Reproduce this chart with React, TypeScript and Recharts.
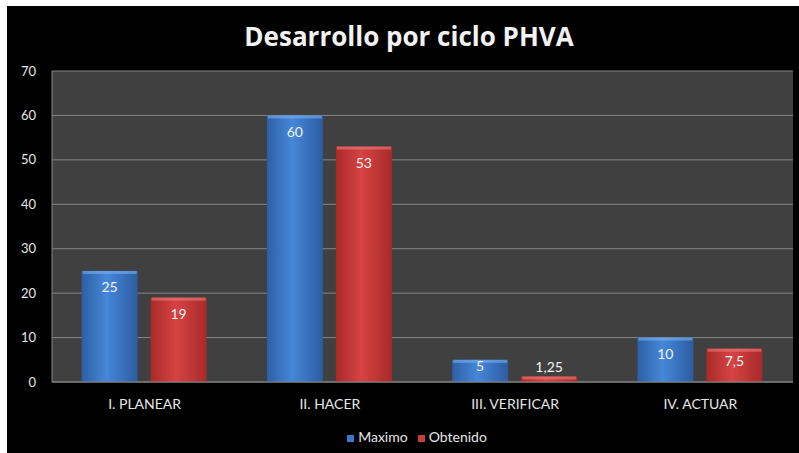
import { BarChart, Bar, XAxis, YAxis, CartesianGrid, Legend } from "recharts";

const CATEGORIES = ["I. PLANEAR", "II. HACER", "III. VERIFICAR", "IV. ACTUAR"];
const MAXIMO = [25, 60, 5, 10];
const OBTENIDO = [19, 53, 1.25, 7.5];
const Y_TICKS = [0, 10, 20, 30, 40, 50, 60, 70];

const data = CATEGORIES.map((name, i) => ({ name, maximo: MAXIMO[i], obtenido: OBTENIDO[i] }));

const FONT = "Lato, 'Open Sans', sans-serif";

const fmt = (v: number) => String(v).replace(".", ",");

const BevelBar = (props: any) => {
  const { x, y, width, height, gradId, topColor } = props;
  if (!height || height <= 0) return null;
  return (
    <g>
      <rect x={x} y={y} width={width} height={height} fill={`url(#${gradId})`} />
      <rect x={x + 1} y={y} width={width - 2} height={Math.min(3, height)} fill={topColor} opacity={0.6} />
    </g>
  );
};

const BarLabel = (props: any) => {
  const { x, y, width, height, value } = props;
  const h = height as number;
  let cy: number;
  if (h < 12) cy = y - 10;
  else cy = y + Math.min(16, h / 2 - 5);
  return (
    <text
      x={x + width / 2}
      y={cy}
      textAnchor="middle"
      dominantBaseline="central"
      fill="#f2f2f2"
      fontSize={14}
      fontFamily={FONT}
    >
      {fmt(value)}
    </text>
  );
};

export default function App() {
  return (
    <div style={{ position: "absolute", left: 0, top: 0, width: 799, height: 453, background: "#fff" }}>
      <div style={{ position: "absolute", left: 7, top: 6, width: 792, height: 447, background: "#000" }}>
        <div
          style={{
            position: "absolute",
            left: 0,
            width: 804,
            top: 12,
            textAlign: "center",
            color: "#f2f2f2",
            fontFamily: "'Open Sans', Lato, sans-serif",
            fontWeight: 700,
            fontSize: 26,
          }}
        >
          Desarrollo por ciclo PHVA
        </div>
        <BarChart
          width={792}
          height={447}
          data={data}
          margin={{ top: 65, right: 6, bottom: 19, left: 0 }}
          barCategoryGap="16%"
          barGap={13}
        >
          <defs>
            <linearGradient id="gBlue" x1="0" y1="0" x2="1" y2="0">
              <stop offset="0%" stopColor="#2d5fa6" />
              <stop offset="45%" stopColor="#4687d8" />
              <stop offset="100%" stopColor="#2c5ca2" />
            </linearGradient>
            <linearGradient id="gRed" x1="0" y1="0" x2="1" y2="0">
              <stop offset="0%" stopColor="#a92a2a" />
              <stop offset="45%" stopColor="#d64343" />
              <stop offset="100%" stopColor="#a82a2a" />
            </linearGradient>
          </defs>
          <CartesianGrid fill="#404040" stroke="#858585" vertical={false} />
          <XAxis
            dataKey="name"
            stroke="#858585"
            tickLine={false}
            tick={{ fill: "#e6e6e6", fontSize: 14, fontFamily: FONT }}
            tickMargin={11}
            height={35}
          />
          <YAxis
            domain={[0, 70]}
            ticks={Y_TICKS}
            width={45}
            stroke="#858585"
            tickLine={false}
            tick={{ fill: "#e6e6e6", fontSize: 13, fontFamily: FONT, dx: -8 }}
            interval={0}
          />
          <YAxis
            yAxisId="edge"
            orientation="right"
            width={0}
            stroke="#858585"
            tick={false}
            tickLine={false}
          />
          <Legend
            verticalAlign="bottom"
            iconType="square"
            iconSize={7}
            wrapperStyle={{ bottom: 8, left: 0, width: 830, fontFamily: FONT, fontSize: 14 }}
            formatter={(v: string) => <span style={{ color: "#e6e6e6" }}>{v}</span>}
          />
          <Bar
            dataKey="maximo"
            name="Maximo"
            fill="#3a78c8"
            isAnimationActive={false}
            shape={(p: any) => <BevelBar {...p} gradId="gBlue" topColor="#79b0f0" />}
            label={<BarLabel />}
          />
          <Bar
            dataKey="obtenido"
            name="Obtenido"
            fill="#c83c3c"
            isAnimationActive={false}
            shape={(p: any) => <BevelBar {...p} gradId="gRed" topColor="#f07a7a" />}
            label={<BarLabel />}
          />
        </BarChart>
      </div>
    </div>
  );
}
